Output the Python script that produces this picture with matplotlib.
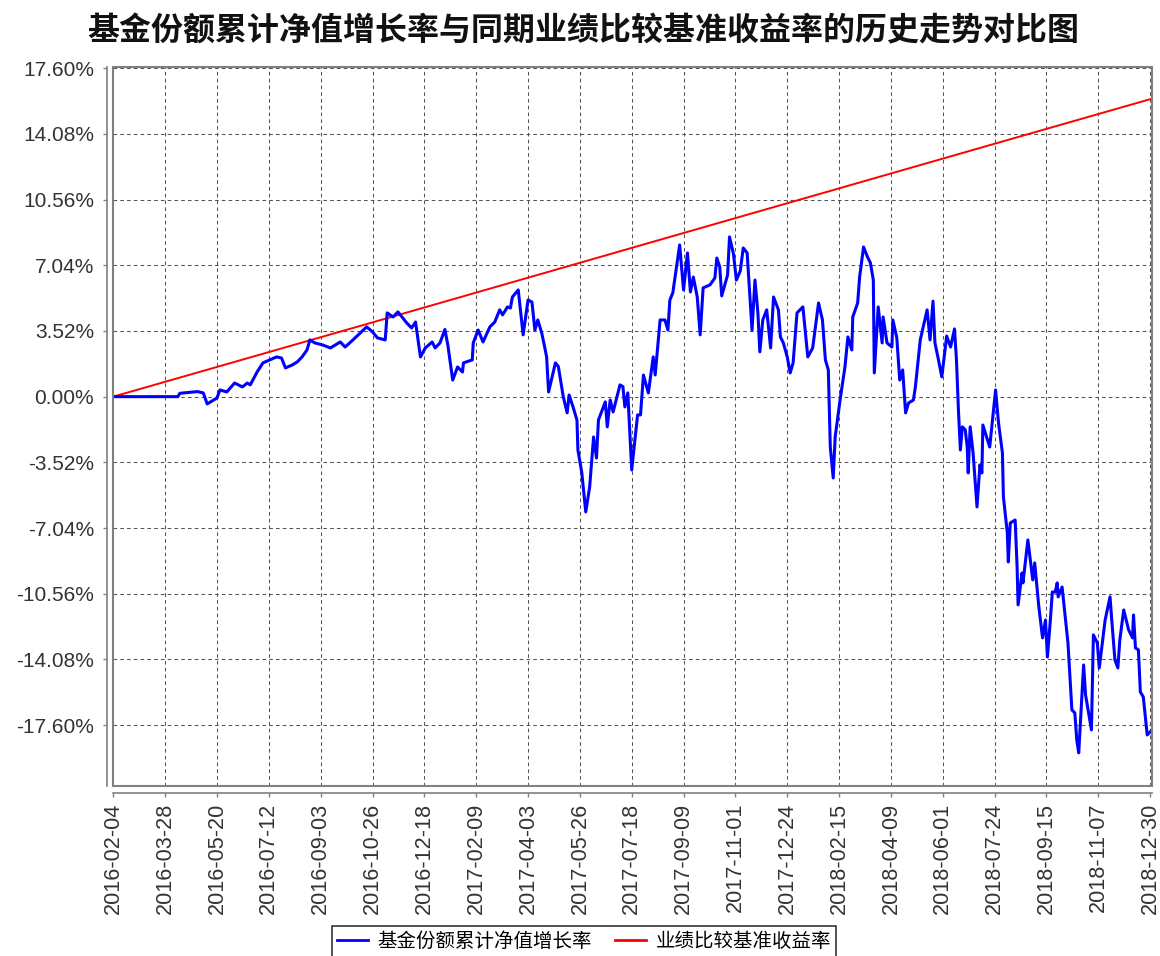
import matplotlib
matplotlib.use('Agg')
import matplotlib.pyplot as plt
import pandas as pd
from matplotlib.patches import Rectangle

# ---------------- data ----------------
title_text = '基金份额累计净值增长率与同期业绩比较基准收益率的历史走势对比图'
fund_label = '基金份额累计净值增长率'
bench_label = '业绩比较基准收益率'

start_date = '2016-02-04'
# days since start_date
fund_days = [
    0, 66, 68, 86, 92, 96, 106, 109, 116, 124, 132, 137, 140, 147, 153, 160, 167, 172, 176, 183,
    188, 193, 198, 201, 206, 214, 222, 232, 237, 245, 259, 265, 270, 278, 280, 286, 291, 300, 305, 309,
    314, 319, 326, 329, 334, 339, 342, 347, 352, 357, 358, 367, 368, 373, 378, 385, 390, 395, 398, 403,
    406, 408, 414, 419, 424, 428, 431, 434, 438, 441, 443, 445, 452, 455, 460, 464, 466, 470, 474, 475,
    479, 483, 487, 491, 494, 496, 503, 505, 508, 511, 518, 521, 523, 526, 530, 536, 539, 542, 547, 552,
    554, 559, 564, 567, 569, 572, 579, 583, 587, 590, 593, 597, 600, 603, 610, 615, 617, 620, 622, 628,
    630, 634, 637, 641, 644, 648, 653, 656, 659, 661, 664, 668, 672, 675, 680, 682, 685, 689, 692, 695,
    699, 705, 710, 715, 721, 725, 728, 731, 733, 736, 738, 743, 748, 751, 755, 756, 761, 763, 767, 771,
    774, 777, 778, 782, 786, 787, 791, 796, 797, 801, 804, 807, 810, 813, 818, 820, 825, 832, 835, 838,
    840, 843, 847, 852, 856, 860, 862, 864, 866, 868, 871, 873, 874, 876, 879, 883, 886, 888, 889, 896,
    902, 905, 909, 910, 914, 915, 917, 922, 924, 925, 929, 930, 935, 940, 942, 946, 950, 953, 955, 958,
    960, 963, 965, 966, 970, 976, 980, 983, 985, 987, 992, 994, 1000, 1002, 1006, 1008, 1014, 1019, 1021, 1024,
    1027, 1029, 1033, 1038, 1042, 1043, 1045, 1048, 1050, 1053, 1057, 1060,
]
fund_values = [
    0.00, 0.00, 0.18, 0.27, 0.20, -0.39, -0.07, 0.36, 0.25, 0.73, 0.52, 0.73, 0.63, 1.32, 1.81, 1.97, 2.13, 2.07, 1.54, 1.70,
    1.86, 2.13, 2.50, 3.04, 2.88, 2.77, 2.61, 2.93, 2.66, 3.04, 3.74, 3.47, 3.15, 3.04, 4.49, 4.27, 4.54, 3.95, 3.68, 4.00,
    2.13, 2.61, 2.93, 2.61, 2.88, 3.60, 2.77, 0.89, 1.59, 1.32, 1.81, 1.97, 2.88, 3.57, 2.93, 3.74, 4.00, 4.65, 4.38, 4.81,
    4.75, 5.34, 5.72, 3.31, 5.18, 5.07, 3.57, 4.11, 3.41, 2.66, 2.13, 0.25, 1.81, 1.61, 0.00, -0.87, 0.09, -0.55, -1.25, -2.86,
    -4.09, -6.18, -4.84, -2.16, -3.29, -1.25, -0.28, -1.62, -0.18, -0.82, 0.63, 0.54, -0.55, 0.20, -3.93, -0.98, -0.98, 1.16, 0.20, 2.13,
    1.16, 4.11, 4.11, 3.57, 5.18, 5.56, 8.13, 5.72, 7.70, 5.61, 6.41, 5.34, 3.31, 5.83, 5.99, 6.36, 7.43, 6.95, 5.40, 6.52,
    8.56, 7.65, 6.25, 6.74, 7.97, 7.70, 3.57, 6.25, 4.49, 2.40, 4.11, 4.65, 2.61, 5.34, 4.65, 3.20, 2.88, 2.13, 1.27, 1.81,
    4.49, 4.81, 2.13, 2.61, 5.02, 4.11, 1.97, 1.43, -2.70, -4.36, -2.16, -0.18, 1.59, 3.20, 2.50, 4.27, 5.02, 6.41, 8.02, 7.49,
    7.17, 6.25, 1.27, 4.81, 2.88, 4.27, 2.88, 2.66, 4.11, 3.15, 0.89, 1.43, -0.87, -0.34, -0.18, 0.52, 3.04, 4.65, 3.04, 5.12,
    2.88, 2.13, 1.06, 3.25, 2.66, 3.63, 1.97, -0.71, -2.86, -1.62, -1.78, -2.70, -4.09, -1.62, -3.02, -5.91, -3.66, -4.09, -1.52, -2.70,
    0.36, -1.41, -3.02, -5.38, -7.30, -8.86, -6.77, -6.61, -9.13, -11.16, -9.45, -9.98, -7.68, -9.82, -8.91, -11.16, -12.93, -11.97, -13.95, -11.97,
    -10.47, -10.47, -9.98, -10.73, -10.20, -13.20, -16.79, -16.95, -18.40, -19.09, -14.38, -15.99, -17.86, -12.77, -13.20, -14.54, -11.97, -10.73, -12.13, -14.11,
    -14.54, -13.04, -11.43, -12.50, -12.93, -11.70, -13.47, -13.57, -15.83, -16.09, -18.13, -17.97,
]

bench_dates = ['2016-02-04', '2016-10-26', '2017-09-09', '2018-09-15', '2018-12-30']
bench_values = [0.00, 3.98, 8.77, 14.35, 15.94]

x_tick_labels = ['2016-02-04', '2016-03-28', '2016-05-20', '2016-07-12', '2016-09-03',
                 '2016-10-26', '2016-12-18', '2017-02-09', '2017-04-03', '2017-05-26',
                 '2017-07-18', '2017-09-09', '2017-11-01', '2017-12-24', '2018-02-15',
                 '2018-04-09', '2018-06-01', '2018-07-24', '2018-09-15', '2018-11-07',
                 '2018-12-30']
y_tick_values = [-17.60, -14.08, -10.56, -7.04, -3.52, 0.00, 3.52, 7.04, 10.56, 14.08, 17.60]

# ---------------- figure ----------------
W, H = 1160, 956
fig = plt.figure(figsize=(W / 100, H / 100), dpi=100)
fig.patch.set_facecolor('white')

left, right = 113.3 / W, 1151.7 / W
top, bottom = 1 - 67.3 / H, 1 - 785.7 / H
ax = fig.add_axes([left, bottom, right - left, top - bottom])

t0 = pd.Timestamp(start_date)
fund_x = t0 + pd.to_timedelta(fund_days, unit='D')
bench_x = pd.to_datetime(bench_dates)
tick_x = pd.to_datetime(x_tick_labels)

ax.plot(bench_x, bench_values, color='#FF0000', lw=1.4, zorder=3, label=bench_label)
ax.plot(fund_x, fund_values, color='#0000FF', lw=2.2, zorder=4, label=fund_label,
        solid_joinstyle='round')

ax.set_xlim(t0, t0 + pd.Timedelta(days=1061.6))
ax.set_ylim(-20.85, 17.65)

ax.grid(True, color='#555555', lw=0.75, linestyle=(0, (3.5, 3)))
ax.set_axisbelow(True)

for s in ['top', 'right']:
    ax.spines[s].set_visible(False)
ax.spines['left'].set_position(('outward', 4.8))
ax.spines['bottom'].set_position(('outward', 5.3))
for s in ['left', 'bottom']:
    ax.spines[s].set_color('#808080')
    ax.spines[s].set_linewidth(1.2)

tick_font = 'Liberation Sans'
ax.tick_params(axis='both', direction='out', length=3, width=1, color='#808080',
               labelcolor='#333333', labelfontfamily=tick_font)
ax.tick_params(axis='y', pad=6, labelsize=15)
ax.tick_params(axis='x', pad=4, labelsize=15.6, labelrotation=90)

ax.set_xticks(tick_x)
ax.set_xticklabels(x_tick_labels)
ax.set_yticks(y_tick_values)
ax.set_yticklabels([f'{v:.2f}%' for v in y_tick_values])
for lab in ax.get_xticklabels():
    lab.set_rotation(90)
    lab.set_ha('center')
    lab.set_va('top')
    lab.set_fontsize(15.6)
    lab.set_family(tick_font)
for lab in ax.get_yticklabels():
    lab.set_fontsize(15)
    lab.set_family(tick_font)

border = Rectangle((0, 0), 1, 1, transform=ax.transAxes, fill=False,
                   edgecolor='#808080', lw=1.5, clip_on=False, zorder=5)
ax.add_patch(border)

cjk = ['Noto Sans CJK SC', 'DejaVu Sans']
fig.text(583.5 / W, 1 - 31 / H, title_text, ha='center', va='center',
         fontsize=23, fontweight='bold', family=cjk, color='#111111')

handles, labels = ax.get_legend_handles_labels()
order = [1, 0]
leg = fig.legend([handles[i] for i in order], [labels[i] for i in order],
                 loc='upper center', bbox_to_anchor=(584 / W, 1 - 926 / H),
                 ncol=2, frameon=True, fancybox=False, edgecolor='black',
                 prop={'family': cjk, 'size': 14}, handlelength=1.6,
                 handletextpad=0.5, columnspacing=1.2, borderpad=0.25,
                 borderaxespad=0)
leg.get_frame().set_linewidth(1.2)
for lh in leg.get_lines():
    lh.set_linewidth(2.0)

fig.savefig('out.png', dpi=100)
